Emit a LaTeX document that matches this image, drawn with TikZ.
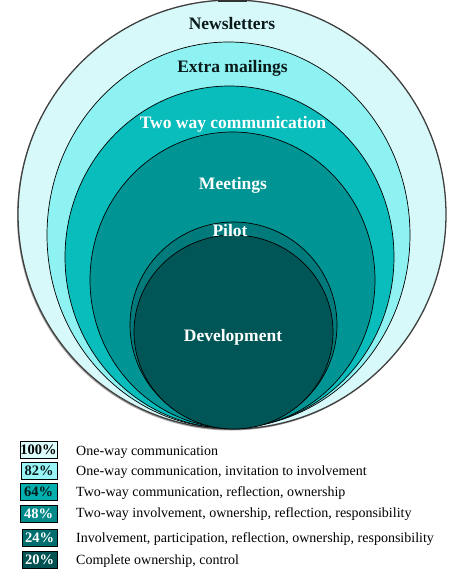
\documentclass[tikz,border=0pt]{standalone}
\usepackage{fontspec}
\setmainfont{Liberation Serif}
\definecolor{cA}{HTML}{D8F9F9}
\definecolor{cB}{HTML}{8FF2F2}
\definecolor{cC}{HTML}{0ABDBD}
\definecolor{cD}{HTML}{009494}
\definecolor{cE}{HTML}{007A7A}
\definecolor{cF}{HTML}{005656}
\definecolor{lA}{HTML}{DDFDFD}
\definecolor{lB}{HTML}{9AF6F6}
\definecolor{lC}{HTML}{02AEAE}
\definecolor{lD}{HTML}{008A8A}
\definecolor{lE}{HTML}{006E6E}
\definecolor{lF}{HTML}{005252}
\definecolor{txtdark}{HTML}{0A1A1A}
\begin{document}
\begin{tikzpicture}[x=1pt,y=-1pt,
  ring/.style={draw=black,line width=0.7pt},
  lab/.style={font=\fontsize{17.5}{20}\selectfont\bfseries,anchor=base,inner sep=0pt},
  pct/.style={draw=black,line width=0.9pt,minimum height=17pt,inner sep=0pt,
    font=\fontsize{14.5}{16}\selectfont\bfseries},
  desc/.style={font=\fontsize{14}{16}\selectfont,anchor=base west,inner sep=0pt}]
\useasboundingbox[fill=white] (0,0) rectangle (474,574);
% rings
\fill[gray!70] (231,216) ellipse [x radius=214pt, y radius=214.5pt];
\draw[fill=cA,draw=black!75,line width=1.3pt] (232,214.5) ellipse [x radius=214pt, y radius=214.5pt];
\draw[ring,fill=cB] (228.5,235) ellipse [x radius=181.5pt, y radius=193pt];
\draw[ring,fill=cC] (229.5,257) ellipse [x radius=164.5pt, y radius=171pt];
\draw[ring,fill=cD] (232.5,280) ellipse [x radius=142.5pt, y radius=148pt];
\draw[ring,fill=cE] (233.5,325) ellipse [x radius=103.5pt, y radius=103pt];
\draw[ring,fill=cF] (233.5,332) ellipse [x radius=99.5pt, y radius=97pt];
\fill[black!80] (218,0) rectangle (247,2);
% ring labels
\node[lab,text=txtdark] (news) at (232,29.5) {Newsletters};
\node[lab,text=txtdark] (extra) at (232.5,72) {Extra mailings};
\node[lab,text=white] (two) at (233,128.5) {Two way communication};
\node[lab,text=white] (meet) at (233,189) {Meetings};
\node[lab,text=white] (pilot) at (230,236) {Pilot};
\node[lab,text=white] (dev) at (233,341.5) {Development};
% legend
\node[pct,fill=lA,text=black,minimum width=37pt] (p1) at (38.5,449.5) {100\%};
\node[pct,fill=lB,text=txtdark,minimum width=36pt] (p2) at (39,470.5) {82\%};
\node[pct,fill=lC,text=black!80!teal,minimum width=37pt] (p3) at (38.5,492) {64\%};
\node[pct,fill=lD,text=white,minimum width=37pt] (p4) at (38.5,514) {48\%};
\node[pct,fill=lE,text=white,minimum width=35pt] (p5) at (39.5,538) {24\%};
\node[pct,fill=lF,text=white,minimum width=35pt] (p6) at (39.5,559.5) {20\%};
\node[desc] (d1) at (76,455) {One-way communication};
\node[desc] (d2) at (76,475.5) {One-way communication, invitation to involvement};
\node[desc] (d3) at (76,496) {Two-way communication, reflection, ownership};
\node[desc] (d4) at (76,517) {Two-way involvement, ownership, reflection, responsibility};
\node[desc] (d5) at (76,542) {Involvement, participation, reflection, ownership, responsibility};
\node[desc] (d6) at (76,564) {Complete ownership, control};
\end{tikzpicture}
\end{document}
